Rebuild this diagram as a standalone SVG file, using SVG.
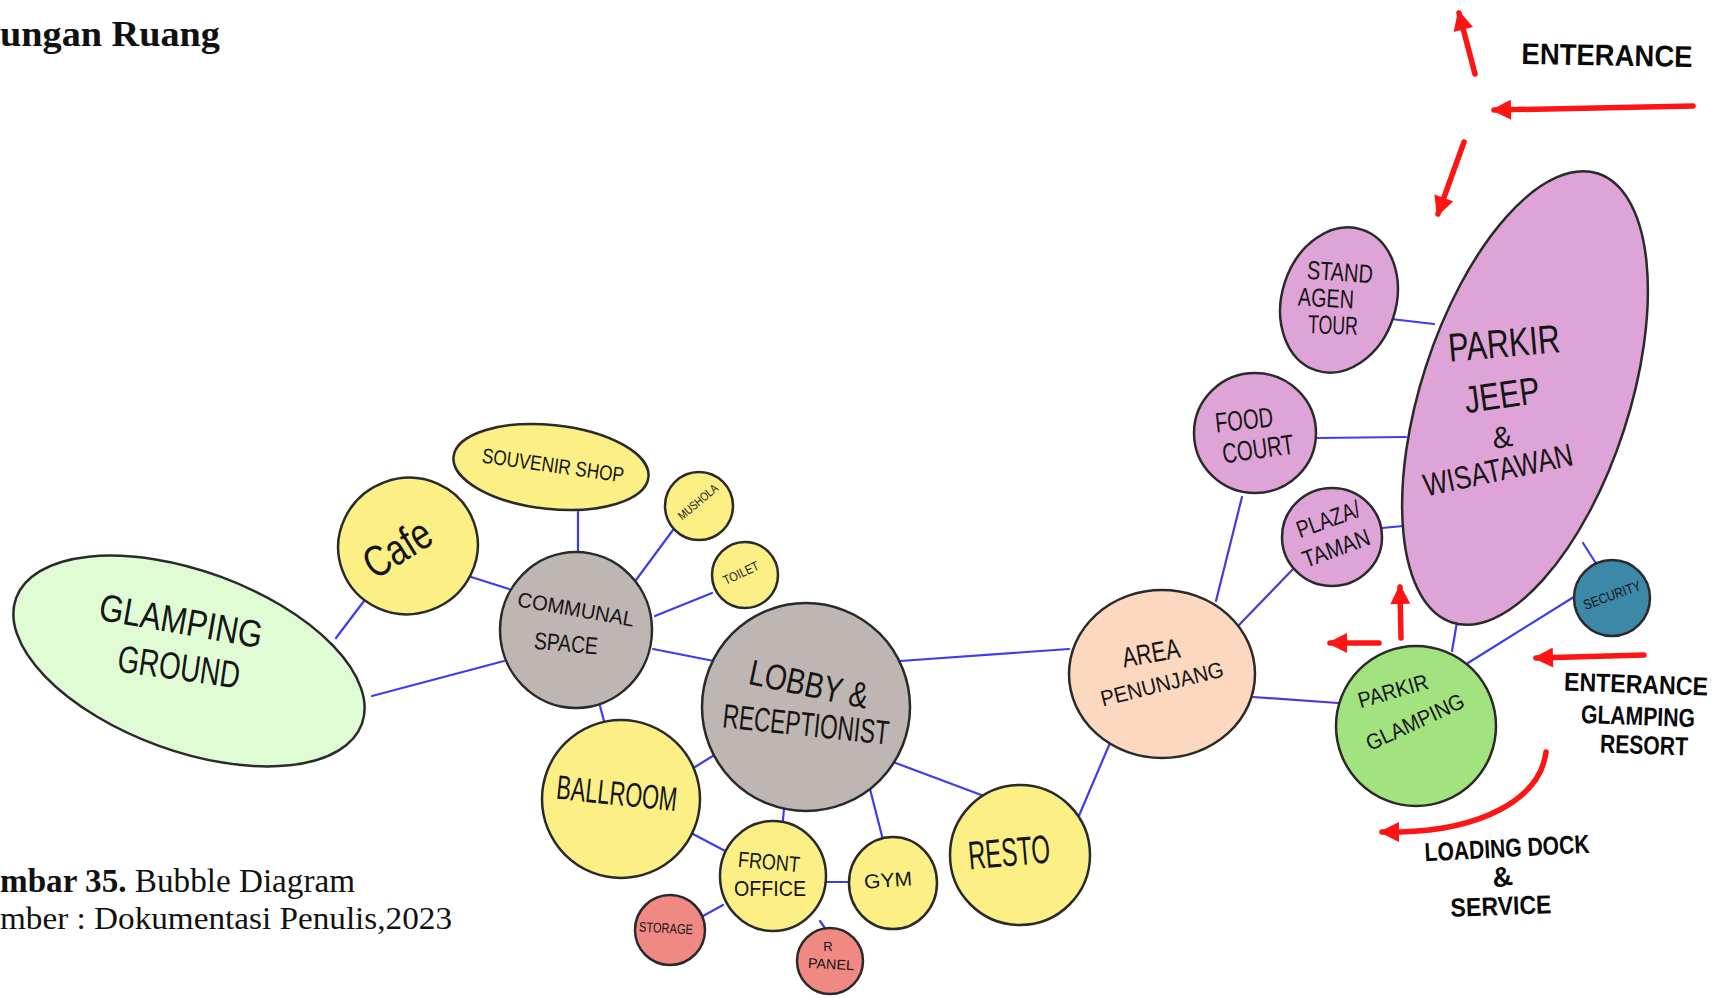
<svg xmlns="http://www.w3.org/2000/svg" width="1724" height="998" viewBox="0 0 1724 998">
<style>
  .bub { stroke: #2a2a2a; stroke-width: 2.5; }
  .yel { fill: #fbef86; }
  .gry { fill: #bdb6b2; }
  .red { fill: #f08883; }
  .pnk { fill: #dfa4d7; }
  .lnk { stroke: #3c3cf0; stroke-width: 2.2; fill: none; stroke-linecap: round; }
  .lnk2 { stroke: #5533d6; stroke-width: 2.2; fill: none; stroke-linecap: round; }
  .lbl { font-family: "Liberation Sans", "DejaVu Sans", sans-serif; fill: #151515; text-anchor: middle; dominant-baseline: central; }
  .ann { font-family: "Liberation Sans", "DejaVu Sans", sans-serif; fill: #0a0a0a; font-weight: bold; text-anchor: middle; dominant-baseline: central; }
  .cap { font-family: "Liberation Serif", "DejaVu Serif", serif; fill: #111; }
  .arr { stroke: #ff1414; stroke-width: 5.5; fill: none; stroke-linecap: round; }
</style>
<defs>
  <marker id="ah" viewBox="0 0 10 10" refX="8.5" refY="5" markerWidth="22" markerHeight="20" markerUnits="userSpaceOnUse" orient="auto">
    <path d="M0,0 L10,5 L0,10 z" fill="#ff1414"/>
  </marker>
</defs>
<rect width="1724" height="998" fill="#ffffff"/>

<text class="cap" x="0" y="46" font-size="35" font-weight="bold" textLength="220" lengthAdjust="spacingAndGlyphs">ungan Ruang</text>
<text class="cap" x="0" y="892" font-size="33" textLength="355" lengthAdjust="spacingAndGlyphs"><tspan font-weight="bold">mbar 35.</tspan> Bubble Diagram</text>
<text class="cap" x="0" y="929" font-size="32" textLength="452" lengthAdjust="spacingAndGlyphs">mber : Dokumentasi Penulis,2023</text>

<g id="connectors">
  <line class="lnk" x1="336" y1="638" x2="364" y2="601"/>
  <line class="lnk" x1="372" y1="696" x2="504" y2="661"/>
  <line class="lnk" x1="468" y1="576" x2="509" y2="589"/>
  <line class="lnk" x1="578" y1="512" x2="578" y2="552"/>
  <line class="lnk" x1="673" y1="530" x2="636" y2="580"/>
  <line class="lnk" x1="712" y1="593" x2="655" y2="616"/>
  <line class="lnk" x1="653" y1="649" x2="714" y2="661"/>
  <line class="lnk" x1="600" y1="706" x2="604" y2="721"/>
  <line class="lnk" x1="716" y1="754" x2="695" y2="767"/>
  <line class="lnk" x1="784" y1="809" x2="782" y2="830"/>
  <line class="lnk" x1="870" y1="789" x2="883" y2="840"/>
  <line class="lnk" x1="893" y1="762" x2="984" y2="796"/>
  <line class="lnk" x1="900" y1="661" x2="1069" y2="649"/>
  <line class="lnk" x1="693" y1="834" x2="729" y2="853"/>
  <line class="lnk" x1="826" y1="882" x2="849" y2="882"/>
  <line class="lnk" x1="723" y1="905" x2="703" y2="916"/>
  <line class="lnk" x1="820" y1="921" x2="827" y2="931"/>
  <line class="lnk" x1="1072" y1="832" x2="1110" y2="743"/>
  <line class="lnk2" x1="1216" y1="601" x2="1242" y2="497"/>
  <line class="lnk2" x1="1239" y1="625" x2="1298" y2="564"/>
  <line class="lnk2" x1="1253" y1="697" x2="1338" y2="703"/>
  <line class="lnk" x1="1382" y1="528" x2="1403" y2="526"/>
  <line class="lnk" x1="1316" y1="438" x2="1406" y2="437"/>
  <line class="lnk" x1="1391" y1="319" x2="1434" y2="324"/>
  <line class="lnk" x1="1583" y1="543" x2="1597" y2="565"/>
  <line class="lnk" x1="1452" y1="651" x2="1457" y2="622"/>
  <line class="lnk" x1="1468" y1="663" x2="1577" y2="595"/>
</g>

<g id="node-glamping-ground">
  <ellipse class="bub" cx="189" cy="661" rx="184" ry="90" transform="rotate(20 189 661)" fill="#e0fcd4"/>
  <text class="lbl" transform="translate(181 621) rotate(10)" font-size="38" textLength="165" lengthAdjust="spacingAndGlyphs">GLAMPING</text>
  <text class="lbl" transform="translate(179 667) rotate(8)" font-size="38" textLength="123" lengthAdjust="spacingAndGlyphs">GROUND</text>
</g>
<g id="node-cafe">
  <ellipse class="bub yel" cx="408" cy="546" rx="70" ry="68" transform="rotate(-20 408 546)"/>
  <text class="lbl" transform="translate(397 548) rotate(-32)" font-size="44" textLength="72" lengthAdjust="spacingAndGlyphs">Cafe</text>
</g>
<g id="node-souvenir">
  <ellipse class="bub yel" cx="551" cy="467" rx="98" ry="42" transform="rotate(6 551 467)"/>
  <text class="lbl" transform="translate(553 465) rotate(8)" font-size="21" textLength="143" lengthAdjust="spacingAndGlyphs">SOUVENIR  SHOP</text>
</g>
<g id="node-mushola">
  <circle class="bub yel" cx="699" cy="506" r="34"/>
  <text class="lbl" transform="translate(698 502) rotate(-40)" font-size="12" textLength="48" lengthAdjust="spacingAndGlyphs">MUSHOLA</text>
</g>
<g id="node-toilet">
  <circle class="bub yel" cx="745" cy="575" r="33"/>
  <text class="lbl" transform="translate(741 573) rotate(-25)" font-size="13" textLength="38" lengthAdjust="spacingAndGlyphs">TOILET</text>
</g>
<g id="node-communal">
  <ellipse class="bub gry" cx="576" cy="630" rx="76" ry="78"/>
  <text class="lbl" transform="translate(576 609) rotate(10)" font-size="21" textLength="118" lengthAdjust="spacingAndGlyphs">COMMUNAL</text>
  <text class="lbl" transform="translate(566 643) rotate(5)" font-size="24" textLength="64" lengthAdjust="spacingAndGlyphs">SPACE</text>
</g>
<g id="node-lobby">
  <circle class="bub gry" cx="806" cy="707" r="104"/>
  <text class="lbl" transform="translate(809 684) rotate(12)" font-size="36" textLength="121" lengthAdjust="spacingAndGlyphs">LOBBY &amp;</text>
  <text class="lbl" transform="translate(806 724) rotate(6)" font-size="34" textLength="167" lengthAdjust="spacingAndGlyphs">RECEPTIONIST</text>
</g>
<g id="node-ballroom">
  <circle class="bub yel" cx="621" cy="799" r="79"/>
  <text class="lbl" transform="translate(617 793) rotate(6)" font-size="34" textLength="121" lengthAdjust="spacingAndGlyphs">BALLROOM</text>
</g>
<g id="node-front-office">
  <ellipse class="bub yel" cx="773" cy="876" rx="53" ry="55"/>
  <text class="lbl" transform="translate(769 862) rotate(5)" font-size="22" textLength="62" lengthAdjust="spacingAndGlyphs">FRONT</text>
  <text class="lbl" transform="translate(770 888)" font-size="22" textLength="72" lengthAdjust="spacingAndGlyphs">OFFICE</text>
</g>
<g id="node-gym">
  <ellipse class="bub yel" cx="893" cy="883" rx="44" ry="46"/>
  <text class="lbl" transform="translate(888 880) rotate(-4)" font-size="20" textLength="48" lengthAdjust="spacingAndGlyphs">GYM</text>
</g>
<g id="node-storage">
  <circle class="bub red" cx="670" cy="930" r="35"/>
  <text class="lbl" transform="translate(666 928) rotate(3)" font-size="14" textLength="54" lengthAdjust="spacingAndGlyphs">STORAGE</text>
</g>
<g id="node-r-panel">
  <circle class="bub red" cx="830" cy="961" r="33"/>
  <text class="lbl" transform="translate(828 946)" font-size="13">R</text>
  <text class="lbl" transform="translate(831 964) rotate(3)" font-size="14" textLength="46" lengthAdjust="spacingAndGlyphs">PANEL</text>
</g>
<g id="node-resto">
  <circle class="bub yel" cx="1020" cy="855" r="70"/>
  <text class="lbl" transform="translate(1009 852) rotate(-5)" font-size="40" textLength="82" lengthAdjust="spacingAndGlyphs">RESTO</text>
</g>
<g id="node-area-penunjang">
  <ellipse class="bub" cx="1162" cy="674" rx="93" ry="84" fill="#fcd8c0" stroke="#111" stroke-width="3"/>
  <text class="lbl" transform="translate(1151 653) rotate(-10)" font-size="28" textLength="58" lengthAdjust="spacingAndGlyphs" fill="#333">AREA</text>
  <text class="lbl" transform="translate(1162 684) rotate(-14)" font-size="22" textLength="126" lengthAdjust="spacingAndGlyphs" fill="#333">PENUNJANG</text>
</g>
<g id="node-parkir-glamping">
  <circle class="bub" cx="1416" cy="726" r="80" fill="#a3e37f"/>
  <text class="lbl" transform="translate(1393 691) rotate(-16)" font-size="22" textLength="72" lengthAdjust="spacingAndGlyphs">PARKIR</text>
  <text class="lbl" transform="translate(1415 722) rotate(-25)" font-size="22" textLength="106" lengthAdjust="spacingAndGlyphs">GLAMPING</text>
</g>
<g id="node-security">
  <circle class="bub" cx="1612" cy="598" r="38" fill="#3b88a8"/>
  <text class="lbl" transform="translate(1612 595) rotate(-20)" font-size="14" textLength="60" lengthAdjust="spacingAndGlyphs">SECURITY</text>
</g>
<g id="node-parkir-jeep">
  <ellipse class="bub pnk" cx="1525" cy="398" rx="104" ry="236" transform="rotate(18 1525 398)"/>
  <text class="lbl" transform="translate(1504 343) rotate(-5)" font-size="40" textLength="112" lengthAdjust="spacingAndGlyphs">PARKIR</text>
  <text class="lbl" transform="translate(1502 395) rotate(-8)" font-size="38" textLength="76" lengthAdjust="spacingAndGlyphs">JEEP</text>
  <text class="lbl" transform="translate(1502 437) rotate(-10)" font-size="30">&amp;</text>
  <text class="lbl" transform="translate(1498 470) rotate(-12)" font-size="32" textLength="152" lengthAdjust="spacingAndGlyphs">WISATAWAN</text>
</g>
<g id="node-stand-agen">
  <ellipse class="bub pnk" cx="1339" cy="300" rx="57" ry="74" transform="rotate(18 1339 300)"/>
  <text class="lbl" transform="translate(1340 272) rotate(4)" font-size="26" textLength="66" lengthAdjust="spacingAndGlyphs">STAND</text>
  <text class="lbl" transform="translate(1326 298) rotate(3)" font-size="26" textLength="56" lengthAdjust="spacingAndGlyphs">AGEN</text>
  <text class="lbl" transform="translate(1333 325) rotate(2)" font-size="26" textLength="50" lengthAdjust="spacingAndGlyphs">TOUR</text>
</g>
<g id="node-food-court">
  <ellipse class="bub pnk" cx="1255" cy="433" rx="61" ry="60"/>
  <text class="lbl" transform="translate(1244 420) rotate(-6)" font-size="28" textLength="58" lengthAdjust="spacingAndGlyphs">FOOD</text>
  <text class="lbl" transform="translate(1258 449) rotate(-8)" font-size="28" textLength="72" lengthAdjust="spacingAndGlyphs">COURT</text>
</g>
<g id="node-plaza">
  <ellipse class="bub pnk" cx="1332" cy="537" rx="50" ry="49"/>
  <text class="lbl" transform="translate(1328 519) rotate(-20)" font-size="24" textLength="66" lengthAdjust="spacingAndGlyphs">PLAZA/</text>
  <text class="lbl" transform="translate(1336 548) rotate(-20)" font-size="24" textLength="70" lengthAdjust="spacingAndGlyphs">TAMAN</text>
</g>

<g id="arrows">
  <line class="arr" x1="1475" y1="74" x2="1459" y2="13" marker-end="url(#ah)"/>
  <line class="arr" x1="1693" y1="106" x2="1494" y2="110" marker-end="url(#ah)"/>
  <line class="arr" x1="1464" y1="142" x2="1438" y2="214" marker-end="url(#ah)"/>
  <line class="arr" x1="1401" y1="638" x2="1400" y2="587" marker-end="url(#ah)"/>
  <line class="arr" x1="1379" y1="643" x2="1330" y2="643" marker-end="url(#ah)"/>
  <line class="arr" x1="1644" y1="655" x2="1536" y2="658" marker-end="url(#ah)"/>
  <path class="arr" d="M1546,752 C1540,800 1480,830 1400,832 L1382,832" marker-end="url(#ah)"/>
</g>

<g id="annotations">
  <text class="ann" transform="translate(1607 55) rotate(1)" font-size="30" textLength="171" lengthAdjust="spacingAndGlyphs">ENTERANCE</text>
  <text class="ann" transform="translate(1636 684) rotate(2)" font-size="26" textLength="144" lengthAdjust="spacingAndGlyphs">ENTERANCE</text>
  <text class="ann" transform="translate(1638 716) rotate(2)" font-size="26" textLength="114" lengthAdjust="spacingAndGlyphs">GLAMPING</text>
  <text class="ann" transform="translate(1644 745) rotate(2)" font-size="26" textLength="88" lengthAdjust="spacingAndGlyphs">RESORT</text>
  <text class="ann" transform="translate(1507 848) rotate(-3)" font-size="26" textLength="165" lengthAdjust="spacingAndGlyphs">LOADING DOCK</text>
  <text class="ann" transform="translate(1502 877) rotate(-10)" font-size="28">&amp;</text>
  <text class="ann" transform="translate(1501 906) rotate(-2)" font-size="26" textLength="101" lengthAdjust="spacingAndGlyphs">SERVICE</text>
</g>
</svg>
